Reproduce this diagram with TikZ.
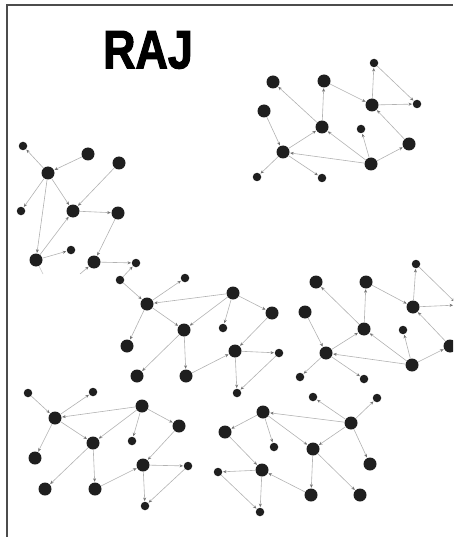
\documentclass[tikz,border=0pt]{standalone}
\usepackage{fontspec}
\newfontfamily\rajfont[BoldFont={Liberation Sans Bold},BoldFeatures={FakeBold=2.2}]{Liberation Sans}
\usetikzlibrary{arrows.meta}
\begin{document}
\begin{tikzpicture}[x=1pt,y=-1pt,
  bignode/.style={circle,fill=black!88,inner sep=0pt,minimum size=13pt},
  smallnode/.style={circle,fill=black!88,inner sep=0pt,minimum size=8.5pt},
  link/.style={draw=gray!60,line width=0.6pt,-{Stealth[length=3.5pt,width=3pt,color=black!55]},shorten >=0.5pt},
  plainlink/.style={draw=gray!45,line width=0.6pt}]
\useasboundingbox (0,0) rectangle (453,537);
\clip (0,0) rectangle (453,537);
\draw[black!70,line width=1.3pt] (7,537) -- (7,5) -- (453,5);
\node (title) at (148,50) {\scalebox{0.83}[1]{\rajfont\bfseries\fontsize{54}{54}\selectfont RAJ}};
% cluster A
\node[bignode] (a1) at (273,82) {};
\node[bignode] (a2) at (324,81) {};
\node[smallnode] (a3) at (374,63) {};
\node[bignode] (a4) at (372,105) {};
\node[smallnode] (a5) at (417,104) {};
\node[bignode] (a6) at (264,111) {};
\node[bignode] (a7) at (322,127) {};
\node[smallnode] (a8) at (361,129) {};
\node[bignode] (a9) at (409,144) {};
\node[bignode] (a10) at (283,152) {};
\node[bignode] (a11) at (371,164) {};
\node[smallnode] (a12) at (257,177) {};
\node[smallnode] (a13) at (322,178) {};
% cluster D
\node[smallnode] (d3) at (416,264) {};
\node[bignode] (d1) at (316,282) {};
\node[bignode] (d2) at (366,282) {};
\node[bignode] (d6) at (305,312) {};
\node[bignode] (d4) at (413,307) {};
\node[smallnode] (d5) at (458,305) {};
\node[bignode] (d7) at (364,329) {};
\node[smallnode] (d8) at (403,330) {};
\node[bignode] (d9) at (450,346) {};
\node[bignode] (d10) at (326,353) {};
\node[bignode] (d11) at (412,365) {};
\node[smallnode] (d12) at (300,377) {};
\node[smallnode] (d13) at (364,379) {};
\foreach \p in {a,d}
  \foreach \u/\v in {7/1,7/2,2/4,4/3,3/5,4/5,9/4,11/9,11/8,11/7,11/10,10/7,6/10,10/12,10/13}
    \draw[link] (\p\u) -- (\p\v);
% cluster B
\node[smallnode] (b1) at (23,146) {};
\node[bignode] (b2) at (88,154) {};
\node[bignode] (b3) at (119,163) {};
\node[bignode] (b4) at (48,173) {};
\node[smallnode] (b5) at (21,211) {};
\node[bignode] (b6) at (73,211) {};
\node[bignode] (b7) at (118,213) {};
\node[smallnode] (b8) at (71,250) {};
\node[bignode] (b9) at (36,260) {};
\node[bignode] (b10) at (94,262) {};
\node[smallnode] (b11) at (136,263) {};
\coordinate (s1) at (43,274);
\coordinate (s2) at (80,274);
\foreach \u/\v in {b4/b1,b2/b4,b4/b5,b4/b6,b3/b6,b6/b7,b4/b9,b9/b6,b9/b8,b7/b10,b10/b11,s2/b10}
  \draw[link] (\u) -- (\v);
\draw[plainlink] (b9) -- (s1);
% cluster C
\node[smallnode] (c2) at (120,280) {};
\node[smallnode] (c3) at (185,278) {};
\node[bignode] (c4) at (147,304) {};
\node[bignode] (c5) at (233,293) {};
\node[bignode] (c6) at (272,313) {};
\node[bignode] (c7) at (184,330) {};
\node[smallnode] (c8) at (223,328) {};
\node[bignode] (c9) at (127,346) {};
\node[bignode] (c10) at (235,351) {};
\node[smallnode] (c11) at (279,353) {};
\node[bignode] (c12) at (137,376) {};
\node[bignode] (c13) at (186,376) {};
\node[smallnode] (c14) at (237,393) {};
% cluster E
\node[smallnode] (e2) at (28,393) {};
\node[smallnode] (e3) at (93,392) {};
\node[bignode] (e4) at (55,418) {};
\node[bignode] (e5) at (142,406) {};
\node[bignode] (e6) at (179,426) {};
\node[bignode] (e7) at (93,443) {};
\node[smallnode] (e8) at (132,441) {};
\node[bignode] (e9) at (35,458) {};
\node[bignode] (e10) at (143,465) {};
\node[smallnode] (e11) at (188,466) {};
\node[bignode] (e12) at (45,489) {};
\node[bignode] (e13) at (95,489) {};
\node[smallnode] (e14) at (145,506) {};
\draw[link] (c2) -- (b11);
\foreach \p in {c,e}
  \foreach \u/\v in {2/4,4/3,5/4,4/7,4/9,5/7,5/8,5/6,6/10,7/12,7/13,13/10,10/11,10/14,11/14}
    \draw[link] (\p\u) -- (\p\v);
% cluster F
\node[smallnode] (f1) at (313,397) {};
\node[smallnode] (f2) at (377,398) {};
\node[bignode] (f3) at (263,412) {};
\node[bignode] (f4) at (351,423) {};
\node[bignode] (f5) at (225,432) {};
\node[smallnode] (f6) at (274,447) {};
\node[bignode] (f7) at (313,449) {};
\node[bignode] (f8) at (370,464) {};
\node[smallnode] (f9) at (218,472) {};
\node[bignode] (f10) at (262,470) {};
\node[bignode] (f11) at (311,495) {};
\node[bignode] (f12) at (360,495) {};
\node[smallnode] (f13) at (260,512) {};
\foreach \u/\v in {4/3,4/1,4/2,3/5,3/6,3/7,4/7,4/8,5/10,10/9,11/10,7/11,7/12,10/13,9/13}
  \draw[link] (f\u) -- (f\v);
\end{tikzpicture}
\end{document}
